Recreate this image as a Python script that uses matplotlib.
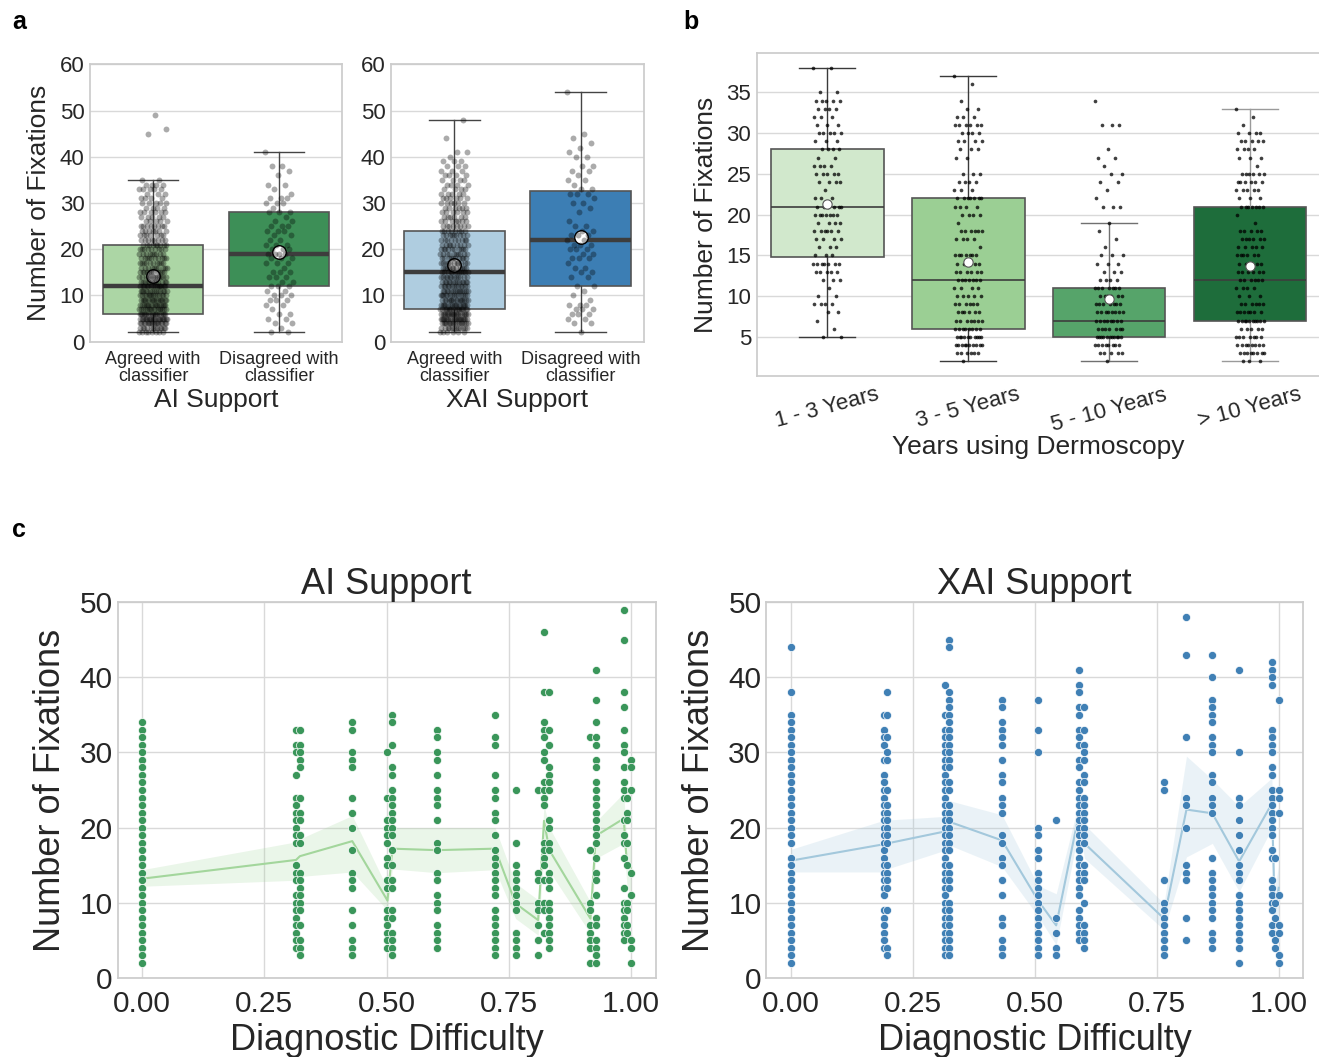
import numpy as np
import matplotlib
matplotlib.use('Agg')
import matplotlib.pyplot as plt
from matplotlib.ticker import FormatStrFormatter

plt.rcParams['font.family'] = ['Liberation Sans', 'DejaVu Sans']
TXT = '#262626'
GRID = '#d9d9d9'
SPINE = '#cccccc'

# ---------------- Panel a data ----------------
a_cats = ['Agreed with\nclassifier', 'Disagreed with\nclassifier']
# AI support box stats [agreed, disagreed]
ai_q1 = [6, 12]
ai_med = [12, 19]
ai_q3 = [21, 28]
ai_wlo = [2, 2]
ai_whi = [35, 41]
ai_mean = [14.2, 19.5]
# XAI support box stats
xai_q1 = [7, 12]
xai_med = [15, 22]
xai_q3 = [24, 32.5]
xai_wlo = [2, 2]
xai_whi = [48, 54]
xai_mean = [16.6, 22.7]

ai_agree_vals = [2, 3, 4, 5, 6, 7, 8, 9, 10, 11, 12, 13, 14, 15, 16, 17, 18, 19, 20, 21, 22, 23, 24, 25,
                 26, 27, 28, 29, 30, 31, 32, 33, 34, 35, 45, 46, 49]
ai_agree_cnts = [8, 12, 16, 20, 18, 16, 16, 16, 14, 14, 14, 12, 12, 11, 10, 10, 10, 9, 9, 9, 8, 7, 7, 8,
                 5, 5, 6, 4, 5, 4, 3, 5, 4, 2, 1, 1, 1]
ai_dis_vals = [41, 38, 37, 36, 34, 33, 32, 31, 30, 29, 28, 27, 26, 25, 24, 23, 22, 21, 20, 19, 18, 17, 16,
               15, 14, 13, 12, 11, 10, 9, 8, 7, 6, 5, 4, 3, 2]
ai_dis_cnts = [1, 2, 1, 1, 2, 1, 1, 3, 3, 1, 3, 1, 2, 3, 3, 2, 2, 3, 3, 4, 3, 3, 1,
               3, 3, 2, 3, 2, 3, 3, 2, 1, 2, 2, 2, 1, 2]
xai_agree_vals = [2, 3, 4, 5, 6, 7, 8, 9, 10, 11, 12, 13, 14, 15, 16, 17, 18, 19, 20, 21, 22, 23, 24, 25,
                  26, 27, 28, 29, 30, 31, 32, 33, 34, 35, 36, 37, 38, 39, 40, 41, 44, 48]
xai_agree_cnts = [6, 12, 16, 20, 20, 18, 16, 15, 14, 14, 13, 13, 12, 12, 11, 11, 10, 10, 10, 9, 9, 9, 8, 8,
                  7, 6, 6, 6, 6, 6, 5, 4, 4, 4, 4, 3, 3, 3, 1, 2, 1, 1]
xai_dis_vals = [54, 45, 44, 43, 42, 41, 40, 38, 37, 36, 35, 34, 33, 32, 31, 30, 29, 28, 26, 25, 24, 23, 22,
                21, 20, 19, 18, 17, 16, 15, 14, 12, 11, 10, 9, 8, 7, 6, 5, 4, 2]
xai_dis_cnts = [1, 1, 1, 1, 1, 1, 2, 2, 2, 1, 2, 1, 2, 3, 1, 2, 1, 1, 1, 2, 2, 3, 2,
                3, 3, 2, 3, 1, 2, 2, 2, 2, 1, 1, 1, 3, 3, 3, 2, 2, 1]

# ---------------- Panel b data ----------------
b_cats = ['1 - 3 Years', '3 - 5 Years', '5 - 10 Years', '> 10 Years']
b_q1 = [14.8, 6, 5, 7]
b_med = [21, 12, 7, 12]
b_q3 = [28, 22, 11, 21]
b_wlo = [5, 2, 2, 2]
b_whi = [38, 37, 19, 33]
b_mean = [21.3, 14.2, 9.7, 13.7]

b1_vals = [38, 35, 34, 33, 32, 31, 30, 29, 28, 27, 26, 25, 24, 23, 22, 21, 20, 19, 18, 17, 16, 15, 14, 13,
           12, 11, 10, 9, 8, 7, 6, 5]
b1_cnts = [2, 2, 5, 4, 3, 3, 5, 3, 4, 2, 4, 5, 4, 1, 3, 6, 7, 4, 6, 4, 3, 3, 7, 5,
           3, 1, 2, 4, 2, 1, 1, 2]
b2_vals = [37, 36, 34, 33, 32, 31, 30, 29, 28, 27, 25, 24, 23, 22, 21, 20, 19, 18, 17, 16, 15, 14, 13, 12,
           11, 10, 9, 8, 7, 6, 5, 4, 3, 2]
b2_cnts = [1, 1, 1, 2, 3, 6, 4, 4, 3, 2, 3, 4, 3, 7, 4, 4, 1, 6, 4, 1, 7, 5, 6, 7,
           4, 5, 6, 6, 7, 8, 10, 10, 6, 1]
b3_vals = [34, 31, 28, 27, 26, 25, 24, 23, 22, 21, 19, 18, 17, 16, 15, 14, 13, 12, 11, 10, 9, 8, 7, 6,
           5, 4, 3, 2]
b3_cnts = [1, 3, 1, 2, 1, 2, 2, 1, 1, 3, 1, 1, 1, 1, 3, 3, 3, 4, 7, 6, 7, 8, 8, 7,
           11, 8, 5, 1]
b4_vals = [33, 32, 31, 30, 29, 28, 27, 26, 25, 24, 23, 22, 21, 20, 19, 18, 17, 16, 15, 14, 13, 12, 11, 10,
           9, 8, 7, 6, 5, 4, 3, 2]
b4_cnts = [1, 1, 1, 4, 5, 4, 3, 1, 6, 6, 5, 3, 7, 1, 1, 5, 6, 5, 6, 5, 6, 6, 4, 3,
           6, 7, 10, 5, 7, 8, 8, 3]

# ---------------- Panel c data ----------------
ai_diff = [0.0, 0.315, 0.323, 0.43, 0.502, 0.512, 0.603, 0.722, 0.764, 0.81, 0.822, 0.833, 0.917, 0.928,
           0.985, 0.992, 1.0]
ai_line_mean = [13.2, 15.7, 16.2, 18.2, 10.3, 17.2, 17.0, 17.2, 9.9, 7.7, 20.9, 17.0, 7.9, 18.9, 21.2, 14.7, 14.7]
ai_line_lo = [12.2, 13.0, 13.5, 14.1, 9.0, 14.5, 14.0, 14.4, 7.9, 5.7, 16.8, 14.2, 5.9, 15.9, 17.9, 12.0, 11.0]
ai_line_hi = [14.4, 18.1, 18.5, 21.6, 11.9, 20.0, 20.0, 20.0, 12.6, 10.4, 23.0, 20.0, 10.1, 20.8, 24.6, 17.5, 18.5]
ai_fix = [
    [34, 33, 32, 31, 30, 29, 28, 27, 26, 25, 24, 23, 22, 21, 20, 19, 18, 17, 16, 15, 14, 13, 12, 11, 10, 9, 8, 7, 6, 5, 4, 3, 2],
    [33, 31, 30, 27, 24, 23, 22, 21, 20, 19, 18, 15, 14, 13, 11, 10, 9, 8, 7, 6, 5, 4],
    [33, 31, 30, 29, 28, 24, 22, 21, 19, 18, 14, 13, 12, 11, 10, 9, 7, 5, 4, 3],
    [34, 33, 30, 29, 28, 24, 22, 20, 17, 14, 13, 12, 9, 7, 5, 4, 3],
    [30, 24, 21, 20, 19, 18, 16, 15, 13, 12, 9, 8, 7, 6, 5, 4],
    [35, 34, 31, 28, 27, 25, 24, 23, 22, 21, 20, 19, 17, 15, 13, 12, 9, 8, 6, 5, 4, 3],
    [33, 32, 30, 29, 27, 25, 24, 23, 21, 18, 17, 14, 13, 11, 10, 9, 7, 6, 5, 4],
    [35, 32, 31, 27, 25, 24, 22, 21, 19, 17, 16, 15, 14, 13, 12, 11, 9, 8, 7, 6, 5, 4, 3],
    [25, 18, 15, 14, 13, 12, 11, 10, 9, 6, 5, 4, 3],
    [25, 14, 13, 10, 9, 7, 5, 3],
    [46, 38, 34, 33, 32, 30, 29, 26, 25, 24, 23, 18, 17, 16, 15, 13, 10, 9, 6],
    [38, 33, 31, 28, 27, 26, 25, 21, 20, 18, 17, 14, 13, 12, 10, 9, 8, 7, 6, 5, 4],
    [32, 17, 10, 9, 7, 6, 5, 4, 2],
    [41, 37, 34, 32, 31, 29, 28, 26, 25, 24, 23, 22, 21, 20, 19, 18, 16, 14, 13, 11, 8, 7, 5, 4, 3, 2],
    [49, 45, 38, 36, 33, 31, 30, 28, 26, 25, 24, 21, 19, 18, 16, 12, 10, 9, 8, 7, 6, 5],
    [24, 22, 21, 18, 15, 10, 9, 7, 6],
    [29, 28, 25, 14, 11, 5, 4, 2],
]
xai_diff = [0.0, 0.192, 0.198, 0.317, 0.324, 0.433, 0.507, 0.544, 0.591, 0.602, 0.765, 0.811, 0.864, 0.919,
            0.986, 0.992, 1.0]
xai_line_mean = [15.6, 17.8, 17.9, 19.5, 20.8, 18.3, 10.3, 7.0, 21.9, 17.9, 7.9, 22.4, 21.9, 15.5, 23.2, 8.6, 12.0]
xai_line_lo = [14.1, 14.1, 14.5, 17.0, 17.7, 14.8, 8.2, 4.4, 19.9, 15.9, 6.4, 16.1, 17.9, 11.5, 19.9, 5.5, 9.0]
xai_line_hi = [17.1, 21.0, 21.0, 21.5, 23.6, 21.7, 12.3, 11.2, 23.5, 20.4, 9.9, 29.5, 26.4, 22.8, 26.6, 12.0, 15.0]
xai_fix = [
    [44, 38, 35, 34, 33, 32, 31, 30, 29, 28, 27, 26, 25, 24, 23, 22, 21, 20, 19, 18, 16, 15, 14, 13, 12, 11, 10, 9, 8, 7, 6, 5, 4, 3, 2],
    [35, 33, 32, 31, 29, 27, 26, 25, 24, 23, 22, 21, 20, 19, 18, 17, 16, 15, 14, 13, 12, 11, 9, 8, 7, 6, 5, 4],
    [38, 35, 32, 30, 29, 25, 23, 22, 21, 20, 19, 18, 15, 14, 13, 12, 9, 4, 3],
    [39, 35, 33, 32, 31, 30, 29, 28, 27, 26, 25, 24, 23, 22, 21, 20, 19, 18, 17, 16, 15, 14, 13, 12, 11, 10, 9, 8, 7, 6, 5, 4, 3],
    [45, 44, 38, 37, 36, 35, 34, 33, 32, 31, 30, 29, 28, 26, 25, 23, 22, 21, 20, 19, 18, 17, 15, 14, 13, 12, 10, 9, 8, 7, 6, 5, 4, 3],
    [37, 36, 34, 33, 32, 31, 29, 27, 26, 24, 23, 22, 19, 18, 16, 15, 13, 11, 8, 7, 5, 4, 3],
    [37, 33, 30, 20, 19, 17, 16, 14, 13, 12, 11, 10, 9, 8, 7, 6, 5, 4, 3],
    [21, 8, 6, 4, 3],
    [41, 39, 38, 36, 35, 33, 32, 31, 29, 28, 26, 25, 24, 23, 22, 21, 20, 19, 18, 17, 16, 15, 14, 13, 12, 11, 9, 8, 7, 6, 5],
    [36, 33, 31, 30, 29, 27, 26, 24, 23, 22, 21, 20, 19, 18, 15, 14, 13, 10, 7, 6, 5, 4],
    [26, 25, 13, 10, 9, 8, 7, 6, 5, 4, 3],
    [48, 43, 32, 24, 23, 20, 15, 14, 13, 8, 5],
    [43, 40, 37, 36, 35, 34, 32, 31, 30, 27, 26, 24, 23, 22, 16, 14, 13, 12, 11, 10, 9, 8, 6, 5, 4],
    [41, 30, 24, 23, 21, 19, 17, 15, 14, 13, 11, 10, 9, 8, 7, 6, 5, 4, 2],
    [42, 41, 40, 39, 33, 32, 31, 30, 28, 27, 25, 24, 23, 22, 21, 20, 19, 17, 16, 13, 12, 11, 10, 9, 7, 6],
    [16, 10, 8, 5, 4],
    [37, 25, 24, 22, 11, 7, 6, 3, 2],
]

# ---------------- helpers ----------------
W, H = 1319, 1057
fig = plt.figure(figsize=(W / 100, H / 100), dpi=100)


def add_ax(x0, y0, x1, y1):
    return fig.add_axes([x0 / W, 1 - y1 / H, (x1 - x0) / W, (y1 - y0) / H])


def style(ax, xgrid=False):
    for s in ax.spines.values():
        s.set_color(SPINE)
        s.set_linewidth(1.25)
    ax.yaxis.grid(True, color=GRID, lw=1)
    if xgrid:
        ax.xaxis.grid(True, color=GRID, lw=1)
    else:
        ax.xaxis.grid(False)
    ax.set_axisbelow(True)
    ax.tick_params(length=0, colors=TXT)


def jitter(n, w=0.1):
    return ((np.arange(n) * 0.6180339887) % 1 - 0.5) * 2 * w


def boxes(ax, q1, med, q3, wlo, whi, colors, medlw, edge, wcolors, capw=0.4):
    stats = [dict(q1=q1[i], med=med[i], q3=q3[i], whislo=wlo[i], whishi=whi[i]) for i in range(len(q1))]
    bp = ax.bxp(stats, positions=list(range(len(q1))), widths=0.8, capwidths=capw, patch_artist=True,
                showfliers=False,
                boxprops=dict(edgecolor=edge, linewidth=1.2),
                medianprops=dict(color='#3d3d3d', linewidth=medlw, solid_capstyle='butt'),
                whiskerprops=dict(color='#444444', linewidth=1),
                capprops=dict(color='#444444', linewidth=1), zorder=2)
    for i, p in enumerate(bp['boxes']):
        p.set_facecolor(colors[i])
    for i in range(len(q1)):
        for art in bp['whiskers'][2 * i:2 * i + 2] + bp['caps'][2 * i:2 * i + 2]:
            art.set_color(wcolors[i])
    return bp


def panel_a(ax, q1, med, q3, wlo, whi, means, colors, strips, xlabel, ylabel=None):
    boxes(ax, q1, med, q3, wlo, whi, colors, 3.2, '#555555', ['#444444', '#444444'])
    ax.scatter([0, 1], means, s=95, c='white', edgecolors='black', linewidths=1, zorder=3)
    for i, (vals, cnts) in enumerate(strips):
        y = np.repeat(vals, cnts)
        ax.scatter(i + jitter(len(y), 0.11), y, s=18, c='black', alpha=0.33, linewidths=0, zorder=4)
    ax.set_xlim(-0.5, 1.5)
    ax.set_ylim(0, 60)
    ax.set_yticks([0, 10, 20, 30, 40, 50, 60])
    ax.set_xticks([0, 1])
    ax.set_xticklabels(a_cats, fontsize=13, linespacing=1.0)
    ax.tick_params(axis='y', labelsize=16, pad=4)
    ax.tick_params(axis='x', pad=7)
    ax.set_xlabel(xlabel, fontsize=19, color=TXT, labelpad=2)
    if ylabel:
        ax.set_ylabel(ylabel, fontsize=19, color=TXT, labelpad=6)
    style(ax)


# ---------------- Panel a ----------------
ax1 = add_ax(90, 64.3, 342, 341.7)
panel_a(ax1, ai_q1, ai_med, ai_q3, ai_wlo, ai_whi, ai_mean, ['#acd6a5', '#3d8f57'],
        [(ai_agree_vals, ai_agree_cnts), (ai_dis_vals, ai_dis_cnts)], 'AI Support', 'Number of Fixations')
ax2 = add_ax(391, 64.3, 644, 341.7)
panel_a(ax2, xai_q1, xai_med, xai_q3, xai_wlo, xai_whi, xai_mean, ['#afcde0', '#3c7eb4'],
        [(xai_agree_vals, xai_agree_cnts), (xai_dis_vals, xai_dis_cnts)], 'XAI Support')

# ---------------- Panel b ----------------
axb = add_ax(756.8, 53.3, 1320.5, 376)
boxes(axb, b_q1, b_med, b_q3, b_wlo, b_whi, ['#d1e8cc', '#9bcf94', '#56a46a', '#1e6d3b'], 1.2, '#555555',
      ['#3a3a3a', '#3a3a3a', '#707070', '#9a9a9a'])
for i, (vals, cnts) in enumerate([(b1_vals, b1_cnts), (b2_vals, b2_cnts), (b3_vals, b3_cnts), (b4_vals, b4_cnts)]):
    y = np.repeat(vals, cnts)
    axb.scatter(i + jitter(len(y)), y, s=7, c='black', alpha=0.75, linewidths=0, zorder=4)
axb.scatter(range(4), b_mean, s=45, c='white', edgecolors='#555555', linewidths=0.8, zorder=5)
axb.set_xlim(-0.5, 3.5)
axb.set_ylim(0.2, 39.8)
axb.set_yticks([5, 10, 15, 20, 25, 30, 35])
axb.set_xticks(range(4))
axb.set_xticklabels(b_cats, fontsize=16, rotation=15, ha='center')
axb.tick_params(axis='y', labelsize=16, pad=4)
axb.tick_params(axis='x', pad=6)
axb.set_xlabel('Years using Dermoscopy', fontsize=19, color=TXT, labelpad=0)
axb.set_ylabel('Number of Fixations', fontsize=19, color=TXT, labelpad=6)
style(axb)


# ---------------- Panel c ----------------
def panel_c(ax, xs, lm, lo, hi, cols, linec, dotc, title):
    ax.fill_between(xs, lo, hi, color=linec, alpha=0.22, lw=0, zorder=2)
    ax.plot(xs, lm, color=linec, lw=1.5, zorder=2.5)
    for x, vals in zip(xs, cols):
        ax.scatter(np.full(len(vals), x), vals, s=34, c=dotc, edgecolors='white', linewidths=0.5, zorder=3)
    ax.set_xlim(-0.05, 1.05)
    ax.set_ylim(0, 50)
    ax.set_xticks([0, 0.25, 0.5, 0.75, 1.0])
    ax.xaxis.set_major_formatter(FormatStrFormatter('%.2f'))
    ax.set_yticks([0, 10, 20, 30, 40, 50])
    ax.tick_params(labelsize=21.5)
    ax.tick_params(axis='x', pad=9)
    ax.set_title(title, fontsize=26, color=TXT, pad=6)
    ax.set_xlabel('Diagnostic Difficulty', fontsize=26, color=TXT, labelpad=3)
    ax.set_ylabel('Number of Fixations', fontsize=26, color=TXT, labelpad=8)
    style(ax, xgrid=True)


axc1 = add_ax(117.5, 602, 655.5, 978)
panel_c(axc1, ai_diff, ai_line_mean, ai_line_lo, ai_line_hi, ai_fix, '#a3d69c', '#3a965a', 'AI Support')
axc2 = add_ax(766.3, 602, 1303.1, 978)
panel_c(axc2, xai_diff, xai_line_mean, xai_line_lo, xai_line_hi, xai_fix, '#a3c8dc', '#4080b5', 'XAI Support')

# panel letters
for lx, ly, t in [(12, 22, 'a'), (683, 22, 'b'), (12, 530, 'c')]:
    fig.text(lx / W, 1 - ly / H, t, fontsize=18, fontweight='bold', va='center', ha='left', color='black')

fig.savefig('out.png', dpi=100, facecolor='white')
